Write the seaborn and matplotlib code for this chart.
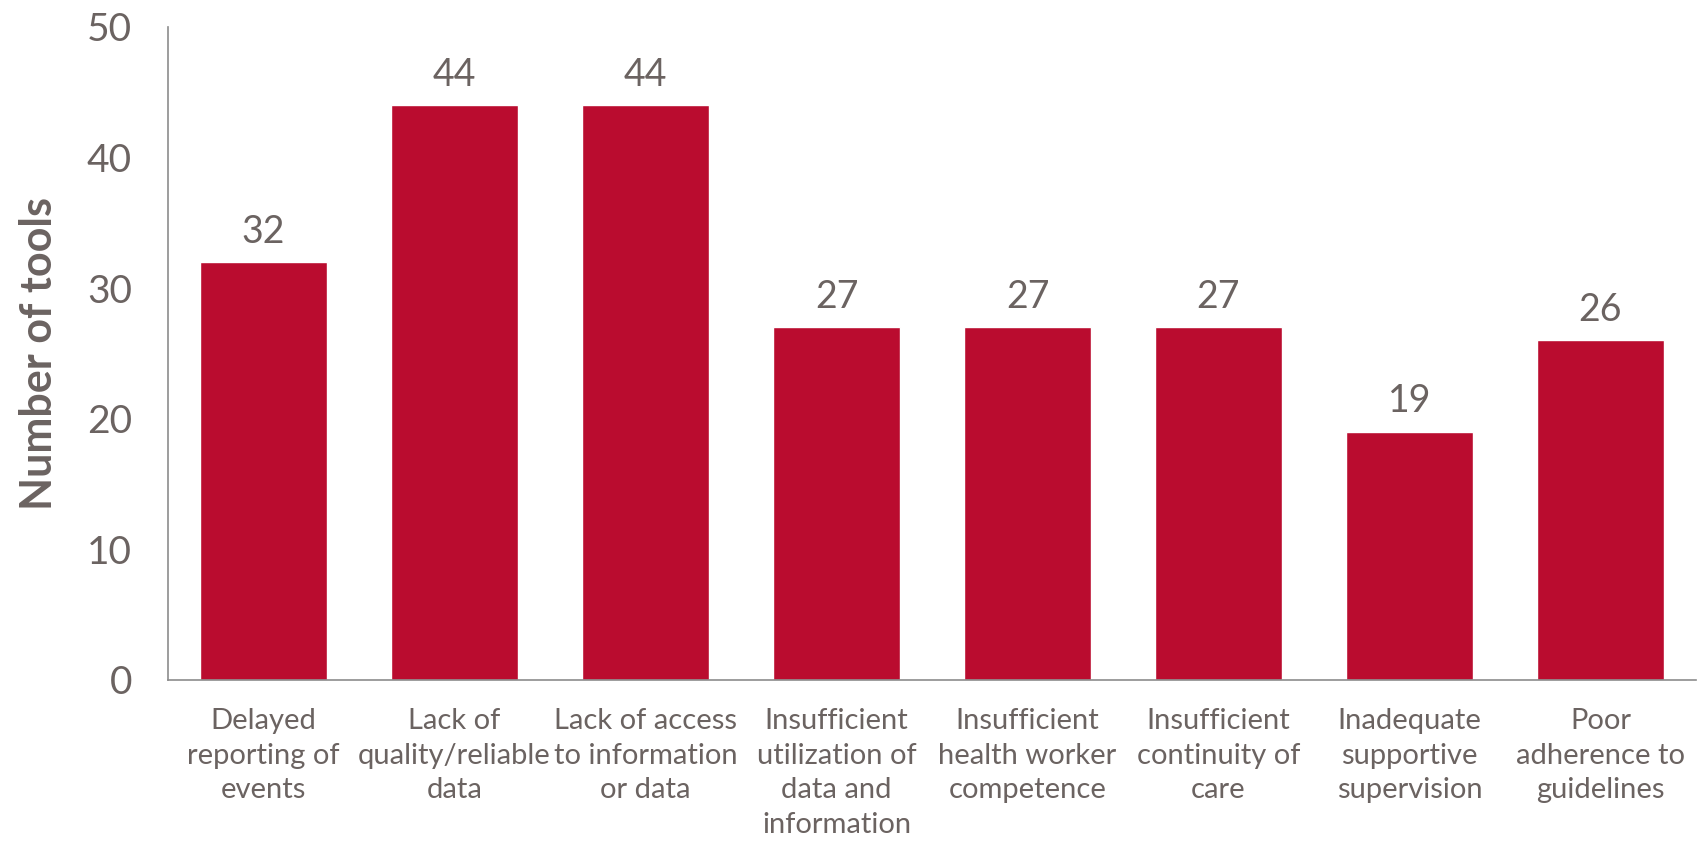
import matplotlib
matplotlib.use("Agg")
import matplotlib.pyplot as plt
import seaborn as sns
import pandas as pd

# Chart data
categories = [
    "Delayed\nreporting of\nevents",
    "Lack of\nquality/reliable\ndata",
    "Lack of access\nto information\nor data",
    "Insufficient\nutilization of\ndata and\ninformation",
    "Insufficient\nhealth worker\ncompetence",
    "Insufficient\ncontinuity of\ncare",
    "Inadequate\nsupportive\nsupervision",
    "Poor\nadherence to\nguidelines",
]
num_tools = [32, 44, 44, 27, 27, 27, 19, 26]
y_ticks = [0, 10, 20, 30, 40, 50]

bar_color = "#BA0C2F"
text_color = "#6B6361"
spine_color = "#8C8C8C"

sns.set_style("white")
plt.rcParams["font.family"] = ["Lato", "DejaVu Sans"]

df = pd.DataFrame({"category": categories, "tools": num_tools})

fig = plt.figure(figsize=(17.04, 8.43), dpi=100)
ax = fig.add_axes([0.0986, 0.1934, 0.8967, 0.7746])

sns.barplot(data=df, x="category", y="tools", color=bar_color,
            saturation=1, width=0.67, ax=ax)

# Value labels above bars
for container in ax.containers:
    ax.bar_label(container, fmt="%d", padding=9, fontsize=27, color=text_color)

ax.set_ylim(0, 50)
ax.set_yticks(y_ticks)
ax.set_xlim(-0.5, len(categories) - 0.5)

ax.tick_params(axis="y", length=0, pad=26, labelsize=28, labelcolor=text_color)
ax.tick_params(axis="x", length=0, pad=20, labelsize=21, labelcolor=text_color)
for lbl in ax.get_xticklabels():
    lbl.set_verticalalignment("top")
    lbl.set_horizontalalignment("center")
    lbl.set_multialignment("center")
    lbl.set_linespacing(1.42)

ax.set_xlabel("")
ax.set_ylabel("Number of tools", fontsize=31, fontweight="bold",
              color=text_color, labelpad=20)

for side in ["top", "right"]:
    ax.spines[side].set_visible(False)
for side in ["left", "bottom"]:
    ax.spines[side].set_color(spine_color)
    ax.spines[side].set_linewidth(1.2)

fig.savefig("out.png", dpi=100)
